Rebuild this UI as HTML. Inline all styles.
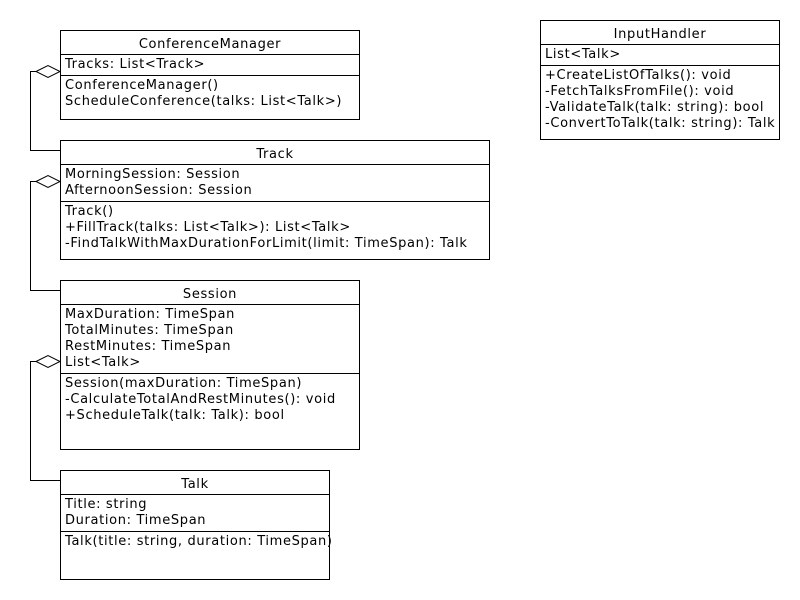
<!DOCTYPE html>
<html><head><style>html,body{margin:0;padding:0;background:#fff}</style></head><body>
<svg width="800" height="600" xmlns="http://www.w3.org/2000/svg" style="display:block" font-family="DejaVu Sans, sans-serif" font-size="13" letter-spacing="0.65" fill="#000">
<g fill="#fff" stroke="#000" stroke-width="1" shape-rendering="crispEdges">
<rect x="60.5" y="30.5" width="299" height="89"/>
<line x1="60" y1="54.5" x2="360" y2="54.5"/><line x1="60" y1="75.5" x2="360" y2="75.5"/>
<rect x="60.5" y="140.5" width="429" height="119"/>
<line x1="60" y1="164.5" x2="490" y2="164.5"/><line x1="60" y1="201.5" x2="490" y2="201.5"/>
<rect x="60.5" y="280.5" width="299" height="169"/>
<line x1="60" y1="304.5" x2="360" y2="304.5"/><line x1="60" y1="373.5" x2="360" y2="373.5"/>
<rect x="60.5" y="470.5" width="269" height="109"/>
<line x1="60" y1="494.5" x2="330" y2="494.5"/><line x1="60" y1="531.5" x2="330" y2="531.5"/>
<rect x="540.5" y="20.5" width="239" height="119"/>
<line x1="540" y1="44.5" x2="780" y2="44.5"/><line x1="540" y1="65.5" x2="780" y2="65.5"/>
</g>
<g fill="none" stroke="#000" stroke-width="1">
<polyline points="60,150.5 30.5,150.5 30.5,71.5 36,71.5"/>
<polygon fill="#fff" points="36,71.5 48,65.5 60,71.5 48,77.5"/>
<polyline points="60,290.5 30.5,290.5 30.5,181.5 36,181.5"/>
<polygon fill="#fff" points="36,181.5 48,175.5 60,181.5 48,187.5"/>
<polyline points="60,480.5 30.5,480.5 30.5,361.5 36,361.5"/>
<polygon fill="#fff" points="36,361.5 48,355.5 60,361.5 48,367.5"/>
</g>
<text x="210" y="48" text-anchor="middle">ConferenceManager</text>
<text x="65" y="68">Tracks: List&lt;Track&gt;</text>
<text x="65" y="89">ConferenceManager()</text>
<text x="65" y="105">ScheduleConference(talks: List&lt;Talk&gt;)</text>
<text x="275" y="158" text-anchor="middle">Track</text>
<text x="65" y="178">MorningSession: Session</text>
<text x="65" y="194">AfternoonSession: Session</text>
<text x="65" y="215">Track()</text>
<text x="65" y="231">+FillTrack(talks: List&lt;Talk&gt;): List&lt;Talk&gt;</text>
<text x="65" y="247">-FindTalkWithMaxDurationForLimit(limit: TimeSpan): Talk</text>
<text x="210" y="298" text-anchor="middle">Session</text>
<text x="65" y="318">MaxDuration: TimeSpan</text>
<text x="65" y="334">TotalMinutes: TimeSpan</text>
<text x="65" y="350">RestMinutes: TimeSpan</text>
<text x="65" y="366">List&lt;Talk&gt;</text>
<text x="65" y="387">Session(maxDuration: TimeSpan)</text>
<text x="65" y="403">-CalculateTotalAndRestMinutes(): void</text>
<text x="65" y="419">+ScheduleTalk(talk: Talk): bool</text>
<text x="195" y="488" text-anchor="middle">Talk</text>
<text x="65" y="508">Title: string</text>
<text x="65" y="524">Duration: TimeSpan</text>
<text x="65" y="545">Talk(title: string, duration: TimeSpan)</text>
<text x="660" y="38" text-anchor="middle">InputHandler</text>
<text x="545" y="58">List&lt;Talk&gt;</text>
<text x="545" y="79">+CreateListOfTalks(): void</text>
<text x="545" y="95">-FetchTalksFromFile(): void</text>
<text x="545" y="111">-ValidateTalk(talk: string): bool</text>
<text x="545" y="127">-ConvertToTalk(talk: string): Talk</text>
</svg>
</body></html>
